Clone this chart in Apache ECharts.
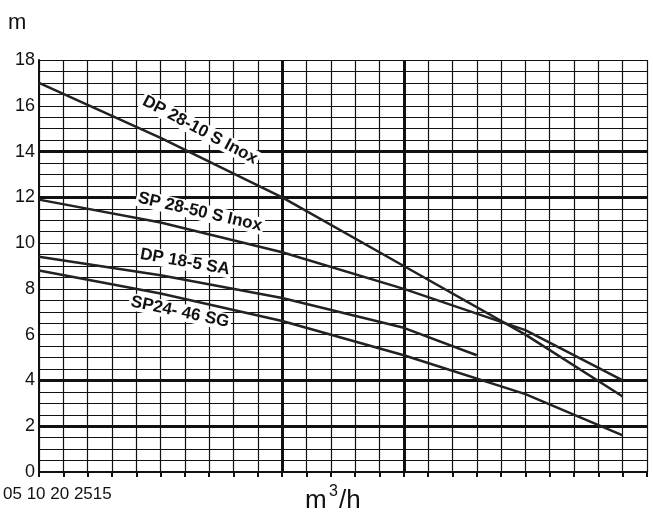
<!DOCTYPE html>
<html><head><meta charset="utf-8">
<script src="https://cdn.jsdelivr.net/npm/echarts@6/dist/echarts.min.js"></script>
<style>body{margin:0;background:#fff}#c{width:653px;height:520px}</style>
</head><body><div id="c"></div>
<script>
var dp2810 = [[0,17],[5,14.6],[10,12],[15,9],[20,6],[24,3.3]];
var sp2850 = [[0,11.9],[5,10.9],[10,9.6],[15,8],[20,6.2],[24,4]];
var dp185 = [[0,9.4],[5,8.6],[10,7.6],[15,6.3],[18,5.1]];
var sp2446 = [[0,8.8],[5,7.8],[10,6.6],[15,5.1],[20,3.4],[24,1.6]];
var thickY = [2,4,12,14];
var thickX = [10,15];
var labels = [
  {t:'DP 28-10 S Inox', x:200, y:130, r:-28},
  {t:'SP 28-50 S Inox', x:200, y:212, r:-13},
  {t:'DP 18-5 SA', x:185, y:262, r:-10},
  {t:'SP24- 46 SG', x:180, y:312, r:-12}
];
var chart = echarts.init(document.getElementById('c'));
function line(d){return {type:'line',data:d,symbol:'none',lineStyle:{color:'#222',width:2.5},z:5};}
var ml = {silent:true,symbol:'none',label:{show:false},lineStyle:{color:'#111',width:3,type:'solid'},
  data: thickY.map(function(v){return {yAxis:v};}).concat(thickX.map(function(v){return {xAxis:v};}))};
var s = [line(dp2810),line(sp2850),line(dp185),line(sp2446)];
s[0].markLine = ml;
chart.setOption({
  animation:false,
  grid:{left:39,right:6,top:60,bottom:48},
  xAxis:{type:'value',min:0,max:25,interval:1,
    axisLine:{lineStyle:{color:'#111',width:2}},
    axisTick:{show:true,length:5,lineStyle:{color:'#111',width:2},interval:0},
    axisLabel:{show:false},
    splitLine:{lineStyle:{color:'#111',width:1.2}}},
  yAxis:{type:'value',min:0,max:18,interval:0.5,
    axisLine:{show:true,lineStyle:{color:'#111',width:2}},
    axisTick:{show:false},
    axisLabel:{fontFamily:'Liberation Sans',fontSize:18,color:'#111',margin:4,
      formatter:function(v){return v%2===0?String(v):'';}},
    splitLine:{lineStyle:{color:'#111',width:1.2}}},
  graphic:[
    {type:'text',left:8,top:12,style:{text:'m',fontSize:22,fontFamily:'Liberation Sans',fill:'#111'}},
    {type:'text',left:3,top:486,style:{text:'05 10 20 2515',fontSize:17,fontFamily:'Liberation Sans',fill:'#111'}},
    {type:'text',left:305,top:488,style:{text:'m',fontSize:26,fontFamily:'Liberation Sans',fill:'#111'}},
    {type:'text',left:329,top:484,style:{text:'3',fontSize:16,fontFamily:'Liberation Sans',fill:'#111'}},
    {type:'text',left:339,top:488,style:{text:'/h',fontSize:26,fontFamily:'Liberation Sans',fill:'#111'}}
  ].concat(labels.map(function(l){return {type:'text',x:l.x,y:l.y,rotation:l.r*Math.PI/180,z:10,
    style:{text:l.t,fontSize:17,fontWeight:'bold',fontFamily:'Liberation Sans',fill:'#111',
      align:'center',verticalAlign:'middle',backgroundColor:'#fff',padding:[0,2]}};})),
  series:s
});
</script></body></html>
